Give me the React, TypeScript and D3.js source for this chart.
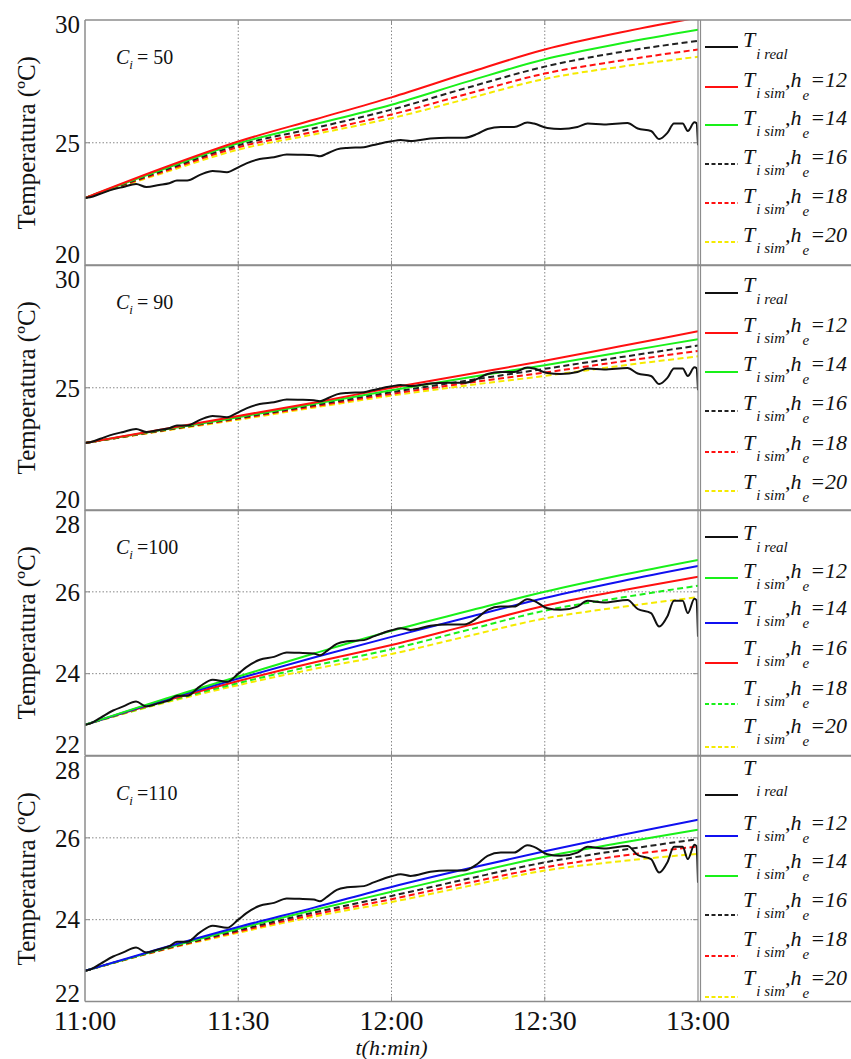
import React from "react";
import * as d3 from "d3";

// ---------- data ----------
const simMinutes = [0, 15, 30, 45, 60, 75, 90, 105, 120];

const realMinutes = [0, 1, 3, 5.5, 7.5, 10, 12, 14.5, 16.5, 18, 20, 22.5, 25, 27.8, 30, 31.6, 34.2, 37, 39.5, 42, 44.8, 46, 47.3, 49.3, 51.3, 54.6, 56.5, 60, 61.8, 63.7, 67.6, 71, 74.2, 76.8, 78.8, 81.4, 84, 86.6, 87.9, 90.5, 93.1, 96.4, 98.4, 101.6, 106.2, 108.2, 110.8, 112.4, 114, 115.3, 117, 118, 119.3, 119.7, 120];
const realTemp = [22.75, 22.78, 22.92, 23.1, 23.2, 23.32, 23.2, 23.28, 23.35, 23.46, 23.46, 23.69, 23.85, 23.8, 24.0, 24.16, 24.34, 24.41, 24.52, 24.51, 24.49, 24.45, 24.55, 24.73, 24.79, 24.82, 24.91, 25.06, 25.11, 25.07, 25.17, 25.2, 25.2, 25.36, 25.56, 25.64, 25.64, 25.82, 25.78, 25.6, 25.56, 25.64, 25.78, 25.74, 25.8, 25.58, 25.48, 25.15, 25.4, 25.78, 25.78, 25.48, 25.83, 25.8, 24.9];

// C_i = 50
const c50_h12 = [22.75, 23.95, 25.05, 25.95, 26.85, 27.85, 28.8, 29.5, 30.1];
const c50_h14 = [22.75, 23.9, 24.98, 25.75, 26.55, 27.5, 28.4, 29.05, 29.6];
const c50_h16 = [22.75, 23.85, 24.9, 25.6, 26.35, 27.25, 28.1, 28.7, 29.15];
const c50_h18 = [22.75, 23.8, 24.82, 25.45, 26.15, 27.0, 27.82, 28.35, 28.8];
const c50_h20 = [22.75, 23.75, 24.72, 25.35, 26.0, 26.8, 27.6, 28.1, 28.5];
// C_i = 90
const c90_h12 = [22.75, 23.3, 23.85, 24.4, 25.0, 25.55, 26.1, 26.7, 27.3];
const c90_h14 = [22.75, 23.28, 23.8, 24.35, 24.9, 25.42, 25.92, 26.45, 26.98];
const c90_h16 = [22.75, 23.26, 23.77, 24.3, 24.82, 25.3, 25.77, 26.25, 26.72];
const c90_h18 = [22.75, 23.25, 23.74, 24.25, 24.75, 25.2, 25.62, 26.07, 26.5];
const c90_h20 = [22.75, 23.23, 23.7, 24.2, 24.68, 25.1, 25.48, 25.9, 26.28];
// C_i = 100
const c100_h12 = [22.75, 23.36, 23.93, 24.5, 25.05, 25.53, 26.0, 26.41, 26.78];
const c100_h14 = [22.75, 23.34, 23.88, 24.4, 24.9, 25.38, 25.85, 26.26, 26.63];
const c100_h16 = [22.75, 23.31, 23.82, 24.28, 24.7, 25.18, 25.66, 26.03, 26.37];
const c100_h18 = [22.75, 23.29, 23.77, 24.2, 24.6, 25.07, 25.54, 25.86, 26.15];
const c100_h20 = [22.75, 23.27, 23.72, 24.12, 24.48, 24.92, 25.35, 25.63, 25.87];
// C_i = 110
const c110_h12 = [22.75, 23.3, 23.82, 24.3, 24.8, 25.25, 25.67, 26.07, 26.44];
const c110_h14 = [22.75, 23.28, 23.78, 24.24, 24.68, 25.12, 25.54, 25.88, 26.2];
const c110_h16 = [22.75, 23.27, 23.74, 24.18, 24.58, 25.0, 25.4, 25.7, 25.97];
const c110_h18 = [22.75, 23.26, 23.71, 24.13, 24.5, 24.9, 25.28, 25.56, 25.79];
const c110_h20 = [22.75, 23.25, 23.68, 24.08, 24.43, 24.82, 25.2, 25.43, 25.61];

const hLabels = ["12", "14", "16", "18", "20"];
const xTickMinutes = [0, 30, 60, 90, 120];
const xTickLabels = ["11:00", "11:30", "12:00", "12:30", "13:00"];
const ciValues = ["= 50", "= 90", "=100", "=110"];
const yTicksA = [20, 25, 30];
const yTicksB = [22, 24, 26, 28];

// ---------- styles ----------
const RED = "#ff1010";
const GREEN = "#19f019";
const BLUE = "#1010f0";
const YELLOW = "#f5ea00";
const BLACK = "#111";
const DASH = "6,3.5";

type S = { vals: number[]; color: string; dash?: string };

const panels = [
  {
    ci: ciValues[0], domain: [20, 30], ticks: yTicksA,
    series: [
      { vals: c50_h12, color: RED }, { vals: c50_h14, color: GREEN },
      { vals: c50_h16, color: "#222", dash: DASH }, { vals: c50_h18, color: RED, dash: DASH },
      { vals: c50_h20, color: YELLOW, dash: DASH },
    ] as S[],
    textRows: [27, 67, 105, 144, 183, 222], lineRows: [27, 67, 105, 144, 183, 222], subFirst: 12, topOff: 4, botOff: 11,
  },
  {
    ci: ciValues[1], domain: [20, 30], ticks: yTicksA,
    series: [
      { vals: c90_h12, color: RED }, { vals: c90_h14, color: GREEN },
      { vals: c90_h16, color: "#222", dash: DASH }, { vals: c90_h18, color: RED, dash: DASH },
      { vals: c90_h20, color: YELLOW, dash: DASH },
    ] as S[],
    textRows: [27, 67, 106, 145, 185, 224], lineRows: [28, 68, 107, 146, 187, 226], subFirst: 12, topOff: 14, botOff: 11,
  },
  {
    ci: ciValues[2], domain: [22, 28], ticks: yTicksB,
    series: [
      { vals: c100_h12, color: GREEN }, { vals: c100_h14, color: BLUE },
      { vals: c100_h16, color: RED }, { vals: c100_h18, color: GREEN, dash: DASH },
      { vals: c100_h20, color: YELLOW, dash: DASH },
    ] as S[],
    textRows: [30, 68, 105, 145, 185, 223], lineRows: [27, 68, 113, 153, 194, 237], subFirst: 12, topOff: 14, botOff: 11,
  },
  {
    ci: ciValues[3], domain: [22, 28], ticks: yTicksB,
    series: [
      { vals: c110_h12, color: BLUE }, { vals: c110_h14, color: GREEN },
      { vals: c110_h16, color: "#222", dash: DASH }, { vals: c110_h18, color: RED, dash: DASH },
      { vals: c110_h20, color: YELLOW, dash: DASH },
    ] as S[],
    textRows: [19, 74, 112, 151, 190, 229], lineRows: [39, 80, 120, 159, 200, 241], subFirst: 21, topOff: 14, botOff: 8,
  },
];

const W = 851, H = 1059;
const LEFT = 85, RIGHT = 698, LEG_R = 851;
const TOPS = [20, 265, 510, 756];
const PH = 245.5;
const FONT = "'Liberation Serif', 'Times New Roman', Times, serif";
const GRID = "#7a7a7a";
const FRAME = "#8c8c8c";

const x = d3.scaleLinear().domain([0, 120]).range([LEFT, RIGHT]);

export default function App() {
  return (
    <svg width={W} height={H} style={{ position: "absolute", left: 0, top: 0, background: "#fff", fontFamily: FONT }}>
      <rect width={W} height={H} fill="#fff" />
      {panels.map((p, pi) => {
        const top = TOPS[pi];
        const bottom = top + PH;
        const y = d3.scaleLinear().domain(p.domain).range([bottom, top]);
        const line = d3.line<number>().x((_, i) => x(simMinutes[i])).y((d) => y(d)).curve(d3.curveMonotoneX);
        const realLine = d3.line<number>().x((_, i) => x(realMinutes[i])).y((d) => y(d)).curve(d3.curveMonotoneX);
        const clipId = `clip${pi}`;
        const midTicks = p.ticks.slice(1, -1);
        return (
          <g key={pi}>
            <defs>
              <clipPath id={clipId}>
                <rect x={LEFT} y={top} width={RIGHT - LEFT} height={PH} />
              </clipPath>
            </defs>
            {/* grid */}
            {xTickMinutes.slice(1, -1).map((m) => (
              <line key={"gx" + m} x1={x(m)} x2={x(m)} y1={top} y2={bottom} stroke={GRID} strokeWidth={0.9} strokeDasharray="1.5,2" />
            ))}
            {midTicks.map((v) => (
              <line key={"gy" + v} x1={LEFT} x2={RIGHT} y1={y(v)} y2={y(v)} stroke={GRID} strokeWidth={0.9} strokeDasharray="1.5,2" />
            ))}
            {/* ticks */}
            {xTickMinutes.slice(1, -1).map((m) => (
              <g key={"tx" + m}>
                <line x1={x(m)} x2={x(m)} y1={bottom} y2={bottom - 5} stroke={FRAME} strokeWidth={1} />
                <line x1={x(m)} x2={x(m)} y1={top} y2={top + 5} stroke={FRAME} strokeWidth={1} />
              </g>
            ))}
            {midTicks.map((v) => (
              <g key={"ty" + v}>
                <line x1={LEFT} x2={LEFT + 5} y1={y(v)} y2={y(v)} stroke={FRAME} strokeWidth={1} />
                <line x1={RIGHT} x2={RIGHT - 5} y1={y(v)} y2={y(v)} stroke={FRAME} strokeWidth={1} />
              </g>
            ))}
            {/* series */}
            <g clipPath={`url(#${clipId})`}>
              {[...p.series].reverse().map((s, si) => (
                <path key={si} d={line(s.vals) || ""} fill="none" stroke={s.color} strokeWidth={2} strokeDasharray={s.dash} />
              ))}
              <path d={realLine(realTemp) || ""} fill="none" stroke={BLACK} strokeWidth={2} strokeLinejoin="round" />
            </g>
            {/* frame */}
            <line x1={LEFT} x2={LEG_R} y1={top} y2={top} stroke={FRAME} strokeWidth={1.5} />
            <line x1={LEFT} x2={LEG_R} y1={bottom} y2={bottom} stroke={FRAME} strokeWidth={1.5} />
            <line x1={LEFT} x2={LEFT} y1={top} y2={bottom} stroke={FRAME} strokeWidth={1.5} />
            <line x1={RIGHT} x2={RIGHT} y1={top} y2={bottom} stroke={FRAME} strokeWidth={1.2} />
            <line x1={RIGHT + 2.5} x2={RIGHT + 2.5} y1={top} y2={bottom} stroke={FRAME} strokeWidth={1.2} />
            {/* y tick labels */}
            {p.ticks.map((v, ti) => {
              let yy = y(v);
              if (ti === p.ticks.length - 1) yy += p.topOff;
              if (ti === 0) yy -= p.botOff;
              return (
                <text key={"yl" + v} x={80} y={yy} dy="0.35em" textAnchor="end" fontSize={25} fill="#111">
                  {v}
                </text>
              );
            })}
            {/* y axis label */}
            <text transform={`translate(35,${(top + bottom) / 2}) rotate(-90)`} textAnchor="middle" fontSize={25} fill="#111">
              Temperatura (ºC)
            </text>
            {/* C_i label */}
            <text x={116} y={top + 44} fontSize={20} fill="#111">
              <tspan fontStyle="italic">C</tspan>
              <tspan fontStyle="italic" fontSize={13} dy={5}>i</tspan>
              <tspan dy={-5} dx={4}>{p.ci}</tspan>
            </text>
            {/* legend */}
            {[{ color: BLACK, dash: undefined as string | undefined }, ...p.series].map((s, li) => {
              const ly = top + p.lineRows[li];
              const ty = top + p.textRows[li];
              return (
                <g key={"lg" + li}>
                  <line x1={705} x2={738} y1={ly} y2={ly} stroke={s.color} strokeWidth={2} strokeDasharray={s.dash ? "4,2.5" : undefined} />
                  {li === 0 ? (
                    <text x={743} y={ty} fontStyle="italic" fontSize={22} fill="#111">
                      T<tspan fontSize={15} dy={p.subFirst} dx={1}>i real</tspan>
                    </text>
                  ) : (
                    <text x={743} y={ty} fontStyle="italic" fontSize={22} fill="#111">
                      T<tspan fontSize={15} dy={11} dx={1}>i sim</tspan>
                      <tspan dy={-11}>,h</tspan>
                      <tspan fontSize={15} dy={13} dx={1}>e</tspan>
                      <tspan dy={-13} dx={1}>={hLabels[li - 1]}</tspan>
                    </text>
                  )}
                </g>
              );
            })}
          </g>
        );
      })}
      {/* x tick labels */}
      {xTickMinutes.map((m, i) => (
        <text key={"xl" + m} x={x(m)} y={1030} textAnchor="middle" fontSize={28} fill="#111">
          {xTickLabels[i]}
        </text>
      ))}
      <text x={(LEFT + RIGHT) / 2} y={1055} textAnchor="middle" fontSize={22} fontStyle="italic" fill="#111">
        t(h:min)
      </text>
    </svg>
  );
}
